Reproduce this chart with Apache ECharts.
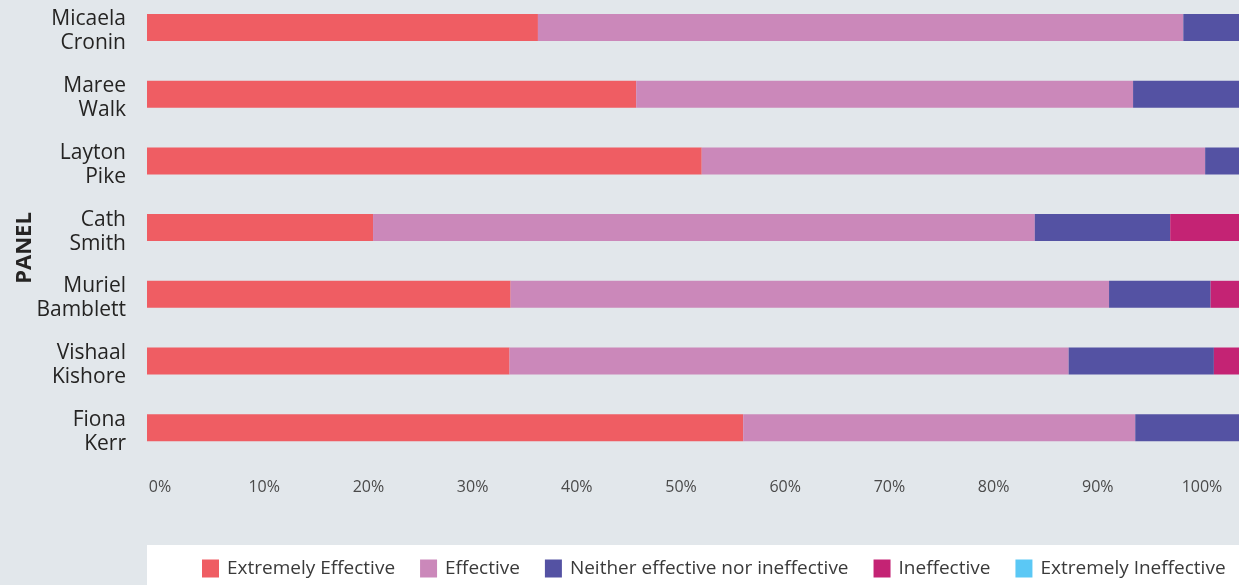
<!DOCTYPE html>
<html>
<head>
<meta charset="utf-8">
<script src="https://cdn.jsdelivr.net/npm/echarts@6/dist/echarts.min.js"></script>
<style>
html,body{margin:0;padding:0;background:#E2E7EB;}
#chart{width:1239px;height:585px;}
</style>
</head>
<body>
<div id="chart"></div>
<script>
// Data (share of each bar, %)
const categories = ['Micaela Cronin','Maree Walk','Layton Pike','Cath Smith','Muriel Bamblett','Vishaal Kishore','Fiona Kerr'];
const seriesNames = ['Extremely Effective','Effective','Neither effective nor ineffective','Ineffective','Extremely Ineffective'];
const extremelyEffective = [35.8, 44.8, 50.8, 20.7, 33.3, 33.2, 54.6];
const effective          = [59.1, 45.5, 46.1, 60.6, 54.8, 51.2, 35.9];
const neither            = [5.1, 9.7, 3.1, 12.4, 9.3, 13.3, 9.5];
const ineffective        = [0, 0, 0, 6.3, 2.6, 2.3, 0];
const extremelyIneffective = [0, 0, 0, 0, 0, 0, 0];
const tickValues = [0,10,20,30,40,50,60,70,80,90,100];

const colors = ['#EF5D63','#CB88BA','#5452A3','#C42374','#5BC8F5'];
const values = [extremelyEffective, effective, neither, ineffective, extremelyIneffective];

const chart = echarts.init(document.getElementById('chart'));
const FONT = '"Open Sans"';

const series = seriesNames.map((n,i)=>({
  name:n, type:'bar', stack:'total', xAxisIndex:0, yAxisIndex:0,
  barWidth:27, data:values[i],
  itemStyle:{color:colors[i]},
  emphasis:{disabled:true}
}));

chart.setOption({
  backgroundColor:'#E2E7EB',
  animation:false,
  textStyle:{fontFamily:FONT},
  grid:[
    {left:147, right:0, top:27.5, height:400.2, containLabel:false},
    {left:160, width:1042, top:27.5, height:400.2, containLabel:false}
  ],
  xAxis:[
    {type:'value', gridIndex:0, min:0, max:100, show:false},
    {type:'value', gridIndex:1, min:tickValues[0], max:tickValues[tickValues.length-1], interval:10,
      axisLine:{show:false}, axisTick:{show:false}, splitLine:{show:false},
      axisLabel:{formatter:'{value}%', color:'#4A4A4A', fontSize:16, fontFamily:FONT, margin:52}}
  ],
  yAxis:[
    {type:'category', gridIndex:0, data:categories, inverse:true, boundaryGap:false,
      axisLine:{show:false}, axisTick:{show:false}, splitLine:{show:false},
      axisLabel:{
        formatter:v=>{const p=v.split(' ');return '{sp| }\n{n|'+p[0]+'}\n{n|'+p.slice(1).join(' ')+'}';},
        align:'right', verticalAlign:'middle', margin:21,
        rich:{
          sp:{fontSize:1, lineHeight:8},
          n:{fontSize:21, lineHeight:24, color:'#252423', fontFamily:FONT, align:'right'}
        }}},
    {type:'category', gridIndex:1, data:categories, inverse:true, boundaryGap:false, show:false}
  ],
  legend:{
    data:seriesNames, left:197, top:554, itemWidth:17, itemHeight:18, itemGap:25, icon:'rect',
    textStyle:{fontSize:19, color:'#3A3A3A', fontFamily:FONT, padding:[0,0,0,3]},
    selectedMode:false
  },
  graphic:[
    {type:'rect', z:-1, shape:{x:147, y:545, width:1092, height:40}, style:{fill:'#FFFFFF'}},
    {type:'text', x:25, y:248, rotation:Math.PI/2,
      style:{text:'PANEL', font:'bold 22px '+FONT, fill:'#252423', align:'center', verticalAlign:'middle'}}
  ],
  series:series
});
</script>
</body>
</html>
